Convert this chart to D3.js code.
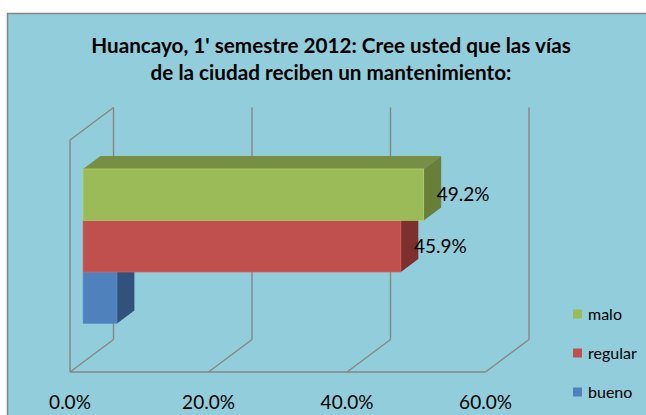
<!DOCTYPE html>
<html>
<head>
<meta charset="utf-8">
<script src="https://cdn.jsdelivr.net/npm/d3@7"></script>
<style>
  body { margin: 0; background: #fff; }
  svg { display: block; font-family: Lato, 'Open Sans', sans-serif; }
</style>
</head>
<body>
<div id="chart"></div>
<script>
// series of the single category, bottom to top
const series = ['bueno', 'regular', 'malo']
const values = [4.9, 45.9, 49.2]
const showLabel = [false, true, true]
const legendOrder = ['malo', 'regular', 'bueno']
const tickValues = [0, 20, 40, 60]
const titleLines = [
  "Huancayo, 1' semestre 2012: Cree usted que las vías",
  'de la ciudad reciben un mantenimiento:'
]

const faceColors = {
  bueno: { front: '#4f81bd', top: '#3a5f8c', side: '#32527b' },
  regular: { front: '#c0504d', top: '#8e3b39', side: '#7d302e' },
  malo: { front: '#9bbb59', top: '#778f43', side: '#687e39' }
}

const width = 646
const height = 415
const DX = 43.5 // depth offset of the 3d box
const DY = -32.5
const z0 = 0.3 // bar front / back depth
const z1 = 0.7

const svg = d3.select('#chart')
  .append('svg')
  .attr('width', width)
  .attr('height', height)

// chart area (cropped on the right and bottom)
svg.append('rect')
  .attr('x', 7.5).attr('y', 13.5)
  .attr('width', width + 10).attr('height', height + 10)
  .attr('fill', '#92cddc')
  .attr('stroke', '#858585')
  .attr('stroke-width', 1.5)

const title = svg.append('text')
  .attr('text-anchor', 'middle')
  .attr('font-weight', 'bold')
  .attr('font-size', 20.7)
  .attr('fill', '#000')
title.selectAll('tspan')
  .data(titleLines)
  .join('tspan')
  .attr('x', 331)
  .attr('y', (d, i) => 53 + i * 26.5)
  .text(d => d)

const x = d3.scaleLinear()
  .domain([0, 60])
  .range([70, 485.5])

const y = d3.scaleBand()
  .domain(legendOrder)
  .range([140, 372])
  .paddingInner(0)
  .paddingOuter(0.75)

const proj = (v, py, z) => [x(v) + z * DX, py + z * DY]
const yTop = 140
const yBot = 372

// walls and floor
const grid = svg.append('g')
  .attr('stroke', '#868686')
  .attr('stroke-width', 1.4)
  .attr('fill', 'none')

const seg = (a, b) => d3.line()([a, b])

grid.selectAll('.back')
  .data(tickValues)
  .join('path')
  .attr('d', t => seg(proj(t, yTop, 1), proj(t, yBot, 1)))
grid.selectAll('.floor')
  .data(tickValues)
  .join('path')
  .attr('d', t => seg(proj(t, yBot, 0), proj(t, yBot, 1)))
grid.append('path')
  .attr('d', seg(proj(0, yBot, 0), proj(60, yBot, 0)))
grid.append('path')
  .attr('d', d3.line()([proj(0, yBot, 0), proj(0, yTop, 0), proj(0, yTop, 1)]))

// bars
const bars = svg.append('g')
series.forEach((s, i) => {
  const v = values[i]
  const t = y(s)
  const b = y(s) + y.bandwidth()
  const c = faceColors[s]
  const g = bars.append('g')
  g.append('path')
    .attr('d', d3.line()([proj(0, t, z0), proj(v, t, z0), proj(v, t, z1), proj(0, t, z1)]) + 'Z')
    .attr('fill', c.top)
  g.append('path')
    .attr('d', d3.line()([proj(v, t, z0), proj(v, t, z1), proj(v, b, z1), proj(v, b, z0)]) + 'Z')
    .attr('fill', c.side)
  const p = proj(0, t, z0)
  g.append('rect')
    .attr('x', p[0])
    .attr('y', p[1])
    .attr('width', x(v) - x(0))
    .attr('height', y.bandwidth())
    .attr('fill', c.front)
    .attr('stroke', d3.color(c.front).brighter(0.4))
    .attr('stroke-width', 0.6)
})

// data labels
const labelData = series.map((s, i) => ({ s, v: values[i], show: showLabel[i] }))
  .filter(d => d.show)
svg.append('g')
  .selectAll('text')
  .data(labelData)
  .join('text')
  .attr('x', d => proj(d.v, 0, z0)[0] + 13)
  .attr('y', d => y(d.s) + y.bandwidth() / 2 + z0 * DY)
  .attr('dy', '0.35em')
  .attr('font-size', 19)
  .text(d => d.v.toFixed(1) + '%')

// x axis labels on the front floor edge
svg.append('g')
  .selectAll('text')
  .data(tickValues)
  .join('text')
  .attr('x', t => x(t))
  .attr('y', 402)
  .attr('dy', '0.35em')
  .attr('text-anchor', 'middle')
  .attr('font-size', 19)
  .text(t => t.toFixed(1) + '%')

// legend
const legend = svg.append('g')
  .selectAll('g')
  .data(legendOrder)
  .join('g')
  .attr('transform', (d, i) => `translate(573,${314 + i * 39})`)
legend.append('rect')
  .attr('x', 0).attr('y', -4.5)
  .attr('width', 9).attr('height', 9)
  .attr('fill', d => faceColors[d].front)
legend.append('text')
  .attr('x', 15)
  .attr('dy', '0.35em')
  .attr('font-size', 16)
  .text(d => d)
</script>
</body>
</html>
